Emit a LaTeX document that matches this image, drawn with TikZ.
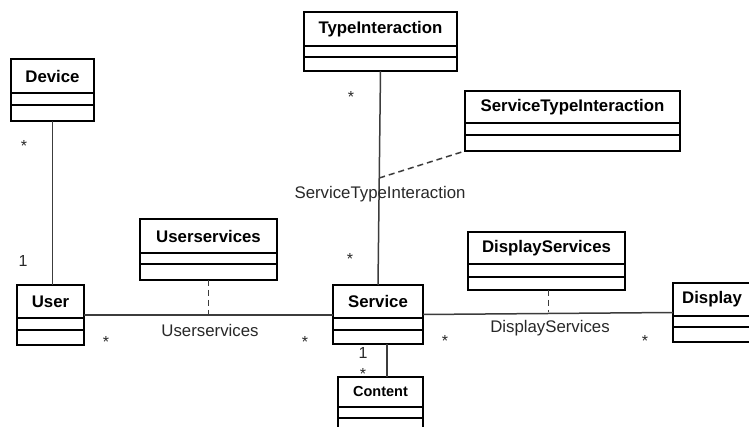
\documentclass[tikz,border=0pt]{standalone}
\usepackage{fontspec}
\setmainfont{Liberation Sans}
\usetikzlibrary{calc}
\definecolor{linegray}{RGB}{60,60,60}
\definecolor{labelgray}{RGB}{40,40,40}
\tikzset{
  classbox/.style={draw=black, line width=2.6pt, fill=white, inner sep=0pt, outer sep=0pt, anchor=north west},
  divider/.style={draw=black, line width=1.2pt},
  classname/.style={font=\fontsize{16.8}{18}\selectfont\bfseries, inner sep=0pt},
  assoc/.style={draw=linegray, line width=1.5pt},
  assocclass/.style={draw=linegray, line width=1.5pt, dash pattern=on 6pt off 4pt},
  assoclabel/.style={font=\fontsize{16.8}{18}\selectfont, text=labelgray, inner sep=0pt, anchor=base},
  mult/.style={font=\fontsize{16}{18}\selectfont, text=labelgray, inner sep=0pt, anchor=base},
}
% #1 node name, #2 top-left corner, #3 width, #4 height,
% #5 name compartment height, #6 attribute compartment height, #7 class name
\newcommand\umlclass[7]{%
  \node[classbox, minimum width=#3pt, minimum height=#4pt] (#1) at (#2) {};
  \draw[divider] ([yshift=-#5pt]#1.north west) -- ([yshift=-#5pt]#1.north east);
  \draw[divider] ([yshift=-#5pt-#6pt]#1.north west) -- ([yshift=-#5pt-#6pt]#1.north east);
  \node[classname] (#1-title) at ([yshift=-#5pt/2]#1.north) {#7};
}
\begin{document}
\begin{tikzpicture}[x=1pt, y=-1pt]
\useasboundingbox (0,0) rectangle (749,427);
\fill[white] (0,0) rectangle (749,427);
\clip (0,0) rectangle (749,427);

% classes
\umlclass{Device}{11,59}{83}{62}{34}{12}{Device}
\umlclass{TypeInteraction}{304,12}{153}{59}{34}{11}{TypeInteraction}
\umlclass{ServiceTypeInteraction}{465,91}{215}{60}{32}{12}{ServiceTypeInteraction}
\umlclass{User}{17,285}{67}{60}{33}{12}{User}
\umlclass{Userservices}{140,219}{137}{61}{34}{11}{Userservices}
\umlclass{Service}{333,285}{90}{59}{33}{12}{Service}
\umlclass{DisplayServices}{468,232}{157}{58}{32}{13}{DisplayServices}
\umlclass{Display}{673,283}{78}{59}{33}{11}{Display}
\umlclass{Content}{338,377}{85}{62}{30}{11}{\fontsize{14.5}{16}\selectfont Content}

% associations
\draw[assoc] (Device.south) -- (Device.south |- User.north);
\draw[assoc] (TypeInteraction.south) -- (Service.north);
\coordinate (stiMid) at ($(TypeInteraction.south)!0.5!(Service.north)$);
\draw[assocclass] (stiMid) -- (ServiceTypeInteraction.south west);
\draw[assoc] (User.east) -- (User.east -| Service.west);
\coordinate (usMid) at (Userservices.south |- User.east);
\draw[assocclass] (Userservices.south) -- (usMid);
\draw[assoc] (Service.east) -- (Display.west);
\coordinate (dsTop) at ([xshift=2pt]DisplayServices.south);
\coordinate (dsMid) at (dsTop |- Display.west);
\draw[assocclass] (dsTop) -- (dsMid);
\coordinate (scTop) at ([xshift=9pt]Service.south);
\draw[assoc] (scTop) -- (scTop |- Content.north);

% association names
\node[assoclabel] (lblSTI) at (380,199) {ServiceTypeInteraction};
\node[assoclabel] (lblUS) at (210,337) {Userservices};
\node[assoclabel] (lblDS) at (550,333) {DisplayServices};

% multiplicities
\node[mult] (mDevice) at (24,152) {*};
\node[mult] (mUser) at (23,267) {1};
\node[mult] (mTypeInt) at (351,103) {*};
\node[mult] (mServiceTop) at (350,265) {*};
\node[mult] (mUserUS) at (106,348) {*};
\node[mult] (mServiceUS) at (305,348) {*};
\node[mult] (mServiceDS) at (445,346) {*};
\node[mult] (mDisplayDS) at (645,346) {*};
\node[mult] (mServiceC) at (363,358) {1};
\node[mult] (mContent) at (363,379) {*};
\end{tikzpicture}
\end{document}
